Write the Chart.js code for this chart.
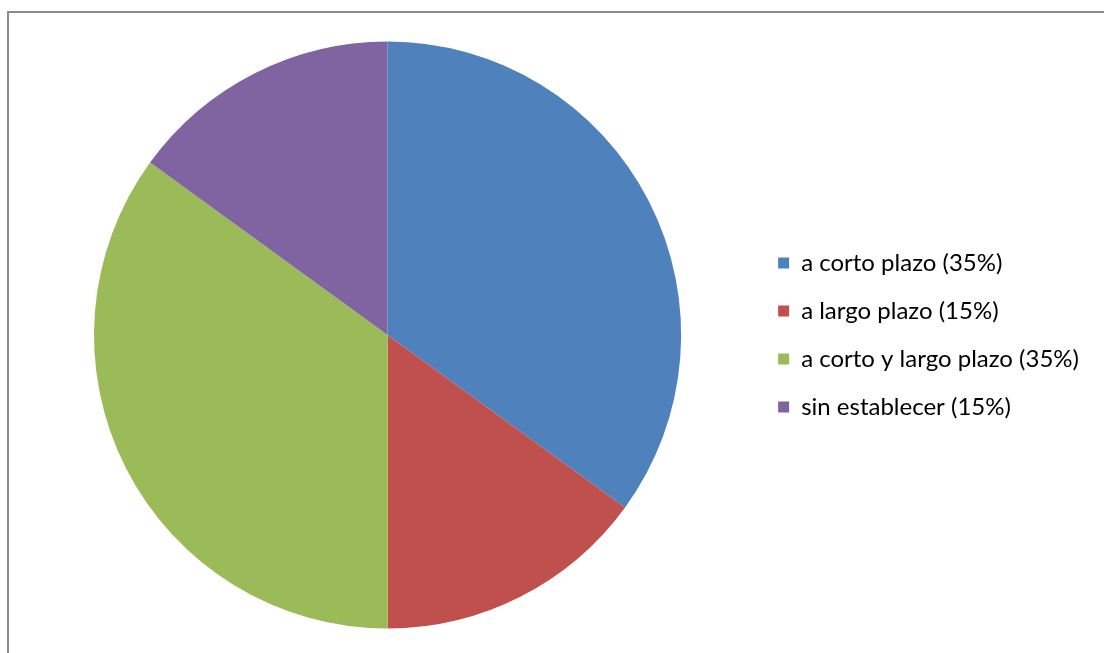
<!DOCTYPE html>
<html>
<head>
<meta charset="utf-8">
<script src="https://cdn.jsdelivr.net/npm/chart.js@4/dist/chart.umd.min.js"></script>
<style>
  body { margin: 0; background: #fff; overflow: hidden; }
  #frame {
    position: absolute; left: 7px; top: 11px;
    width: 1110px; height: 660px;
    border: 2px solid #8c8c8c;
    background: #fff;
  }
  #wrap { position: absolute; left: 0; top: 0; width: 1095px; height: 640px; }
</style>
</head>
<body>
<div id="frame"><div id="wrap"><canvas id="chartPlazo"></canvas></div></div>
<script>
// categorias y porcentajes
var labelsPlazo = ['a corto plazo (35%)', 'a largo plazo (15%)', 'a corto y largo plazo (35%)', 'sin establecer (15%)'];
var dataPlazo = [35, 15, 35, 15];
var coloresPlazo = ['#4F81BD', '#C0504D', '#9BBB59', '#8064A2'];

// deja un hueco entre la torta y la leyenda
var legendGap = {
  id: 'legendGap',
  afterLayout: function(chart) {
    var lg = chart.legend;
    var shift = 73;
    lg.left += shift;
    lg.right += shift;
  }
};

var ctx = document.getElementById('chartPlazo').getContext('2d');
var chartPlazo = new Chart(ctx, {
  type: 'pie',
  data: {
    labels: labelsPlazo,
    datasets: [{
      data: dataPlazo,
      backgroundColor: coloresPlazo,
      borderWidth: 0
    }]
  },
  options: {
    responsive: true,
    maintainAspectRatio: false,
    animation: false,
    layout: { padding: { left: 85, top: 28, bottom: 24, right: 88 } },
    plugins: {
      tooltip: { enabled: false },
      legend: {
        position: 'right',
        align: 'center',
        labels: {
          boxWidth: 11,
          boxHeight: 11,
          padding: 24,
          color: '#000',
          font: { family: 'Lato', size: 24 }
        }
      }
    }
  },
  plugins: [legendGap]
});
</script>
</body>
</html>
